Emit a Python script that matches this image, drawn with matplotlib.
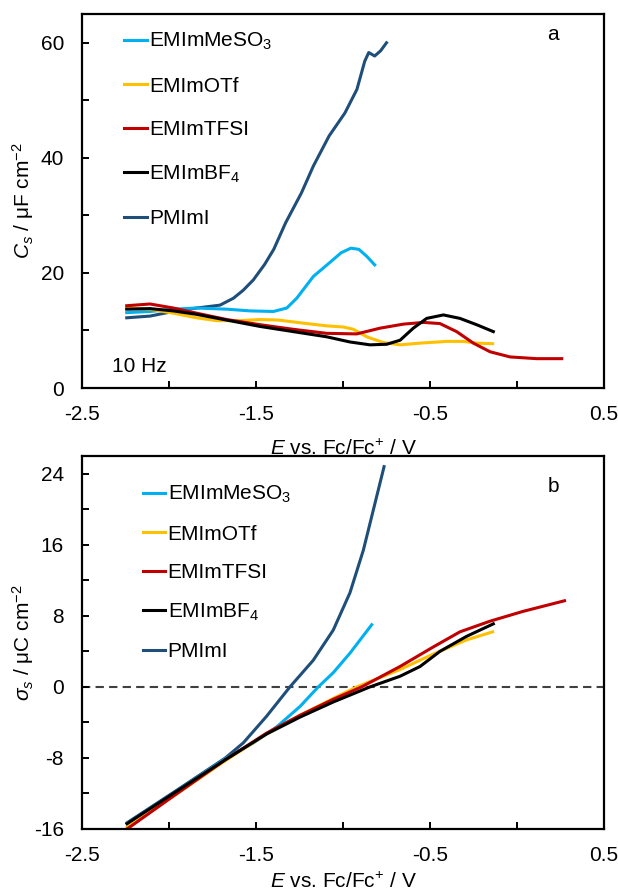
import matplotlib
matplotlib.use("Agg")
import matplotlib.pyplot as plt

plt.rcParams['font.family'] = ['Liberation Sans', 'DejaVu Sans']
plt.rcParams['mathtext.fontset'] = 'custom'
plt.rcParams['mathtext.rm'] = 'Liberation Sans'
plt.rcParams['mathtext.it'] = 'Liberation Sans:italic'
plt.rcParams['axes.unicode_minus'] = False

labels = ["EMImMeSO$_3$", "EMImOTf", "EMImTFSI", "EMImBF$_4$", "PMImI"]
colors = ["#00B0F0", "#FFC000", "#C00000", "#000000", "#1F4E79"]

# Panel a: capacitance (uF cm^-2) vs E (V vs Fc/Fc+)
a_meso3_x = [-2.243, -2.109, -1.975, -1.841, -1.668, -1.534, -1.40, -1.323, -1.266, -1.208, -1.17, -1.08, -1.011, -0.955, -0.909, -0.864, -0.818]
a_meso3_y = [13.1, 13.3, 13.7, 13.9, 13.7, 13.4, 13.3, 13.9, 15.6, 17.9, 19.4, 21.7, 23.5, 24.3, 24.1, 22.9, 21.4]
a_otf_x = [-2.243, -2.109, -1.975, -1.841, -1.726, -1.60, -1.477, -1.37, -1.209, -1.094, -0.998, -0.94, -0.864, -0.768, -0.672, -0.557, -0.404, -0.309, -0.232, -0.14]
a_otf_y = [13.9, 13.7, 13.0, 12.2, 11.7, 11.7, 11.9, 11.8, 11.2, 10.8, 10.6, 10.2, 8.9, 7.9, 7.5, 7.8, 8.1, 8.1, 7.8, 7.7]
a_tfsi_x = [-2.243, -2.109, -1.975, -1.841, -1.668, -1.477, -1.286, -1.094, -0.921, -0.787, -0.653, -0.538, -0.443, -0.347, -0.251, -0.155, -0.040, 0.113, 0.257]
a_tfsi_y = [14.3, 14.6, 13.9, 13.0, 11.9, 11.0, 10.2, 9.5, 9.4, 10.4, 11.1, 11.4, 11.2, 9.8, 7.8, 6.3, 5.4, 5.1, 5.1]
a_bf4_x = [-2.243, -2.109, -1.975, -1.841, -1.668, -1.477, -1.286, -1.094, -0.960, -0.845, -0.749, -0.672, -0.596, -0.519, -0.423, -0.328, -0.232, -0.136]
a_bf4_y = [13.7, 13.8, 13.4, 12.8, 11.8, 10.7, 9.8, 8.9, 8.0, 7.5, 7.6, 8.3, 10.4, 12.1, 12.7, 12.1, 11.0, 9.8]
a_pmimi_x = [-2.243, -2.109, -1.975, -1.841, -1.707, -1.63, -1.573, -1.515, -1.45, -1.398, -1.33, -1.239, -1.17, -1.08, -0.989, -0.92, -0.875, -0.852, -0.818, -0.784, -0.75]
a_pmimi_y = [12.2, 12.5, 13.3, 13.9, 14.4, 15.6, 17.0, 18.8, 21.5, 24.1, 28.7, 33.9, 38.6, 43.8, 47.8, 51.9, 56.8, 58.3, 57.7, 58.6, 60.0]

# Panel b: charge density (uC cm^-2) vs E (V vs Fc/Fc+)
b_meso3_x = [-2.241, -1.968, -1.676, -1.515, -1.381, -1.247, -1.142, -1.056, -0.960, -0.835]
b_meso3_y = [-15.4, -11.9, -8.1, -6.3, -4.5, -2.2, 0.0, 1.6, 3.8, 7.0]
b_otf_x = [-2.241, -1.968, -1.676, -1.439, -1.247, -1.056, -0.921, -0.672, -0.481, -0.289, -0.14]
b_otf_y = [-15.8, -12.2, -8.3, -5.3, -3.2, -1.3, 0.0, 1.96, 3.7, 5.3, 6.2]
b_tfsi_x = [-2.241, -1.968, -1.676, -1.439, -1.247, -1.056, -0.893, -0.672, -0.481, -0.328, -0.155, 0.034, 0.273]
b_tfsi_y = [-16.0, -12.2, -8.2, -5.2, -3.2, -1.4, 0.0, 2.3, 4.5, 6.2, 7.4, 8.5, 9.7]
b_bf4_x = [-2.241, -1.968, -1.676, -1.439, -1.247, -1.056, -0.845, -0.672, -0.557, -0.443, -0.289, -0.136]
b_bf4_y = [-15.4, -11.9, -8.2, -5.3, -3.4, -1.7, 0.0, 1.2, 2.3, 4.0, 5.7, 7.1]
b_pmimi_x = [-2.241, -1.968, -1.676, -1.573, -1.439, -1.305, -1.171, -1.056, -0.960, -0.883, -0.826, -0.764]
b_pmimi_y = [-15.3, -11.8, -8.0, -6.3, -3.3, 0.0, 3.0, 6.4, 10.6, 15.4, 19.9, 24.8]

xmajor = [-2.5, -1.5, -0.5, 0.5]
xmajor_labels = ["-2.5", "-1.5", "-0.5", "0.5"]
xminor = [-2.0, -1.0, 0.0]

fig = plt.figure(figsize=(6.18, 8.94), dpi=100)
W, H = 618, 894
axa = fig.add_axes([82 / W, 1 - 388 / H, 522 / W, 374 / H])
axb = fig.add_axes([82 / W, 1 - 829 / H, 522 / W, 373 / H])

fs = 15
lw = 2.2

def style(ax):
    for s in ax.spines.values():
        s.set_linewidth(1.6)
    ax.set_xlim(-2.5, 0.5)
    ax.set_xticks(xmajor)
    ax.set_xticklabels(xmajor_labels)
    ax.set_xticks(xminor, minor=True)
    ax.tick_params(which='both', direction='in', width=1.4, length=5, labelsize=fs)
    ax.tick_params(axis='y', which='both', pad=13)
    ax.tick_params(axis='x', which='both', pad=12)
    ax.set_xlabel("$\\it{E}$ vs. Fc/Fc$^{+}$ / V", fontsize=fs)

# Panel a
a_data = [(a_meso3_x, a_meso3_y), (a_otf_x, a_otf_y), (a_tfsi_x, a_tfsi_y), (a_bf4_x, a_bf4_y), (a_pmimi_x, a_pmimi_y)]
lines_a = {}
for i in [4, 0, 1, 2, 3]:
    x, y = a_data[i]
    lines_a[i], = axa.plot(x, y, color=colors[i], lw=lw, label=labels[i], solid_joinstyle='round')
style(axa)
axa.set_ylim(0, 65)
axa.set_yticks([0, 20, 40, 60])
axa.set_yticks([10, 30, 50], minor=True)
axa.set_ylabel("$\\it{C}_{s}$ / μF cm$^{-2}$", fontsize=fs)
axa.yaxis.set_label_coords(-0.088, 0.5)
axa.xaxis.set_label_coords(0.5, -0.135)
axa.legend([lines_a[i] for i in range(5)], labels, loc='upper left', bbox_to_anchor=(0.08, 0.955),
           frameon=False, fontsize=fs, handlelength=1.1, handletextpad=0.1, labelspacing=1.17, borderaxespad=0,
           borderpad=0)
axa.text(553 / W, 1 - 35 / H, "a", transform=fig.transFigure, fontsize=fs, ha='center', va='center')
axa.text(112 / W, 1 - 366 / H, "10 Hz", transform=fig.transFigure, fontsize=fs, ha='left', va='center')

# Panel b
b_data = [(b_meso3_x, b_meso3_y), (b_otf_x, b_otf_y), (b_tfsi_x, b_tfsi_y), (b_bf4_x, b_bf4_y), (b_pmimi_x, b_pmimi_y)]
lines_b = {}
for i in [4, 0, 1, 2, 3]:
    x, y = b_data[i]
    lines_b[i], = axb.plot(x, y, color=colors[i], lw=lw, label=labels[i], solid_joinstyle='round')
axb.axhline(0, color='#404040', lw=1.5, ls=(0, (4, 2.5)), zorder=0)
style(axb)
axb.set_ylim(-16, 26)
axb.set_yticks([-16, -8, 0, 8, 16, 24])
axb.set_yticks([-12, -4, 4, 12, 20], minor=True)
axb.set_ylabel("$\\it{σ}_{s}$ / μC cm$^{-2}$", fontsize=fs)
axb.yaxis.set_label_coords(-0.088, 0.5)
axb.xaxis.set_label_coords(0.5, -0.115)
axb.legend([lines_b[i] for i in range(5)], labels, loc='upper left', bbox_to_anchor=(0.116, 0.925),
           frameon=False, fontsize=fs, handlelength=1.1, handletextpad=0.1, labelspacing=0.93, borderaxespad=0,
           borderpad=0)
axb.text(553 / W, 1 - 487 / H, "b", transform=fig.transFigure, fontsize=fs, ha='center', va='center')

fig.savefig("out.png", dpi=100)
